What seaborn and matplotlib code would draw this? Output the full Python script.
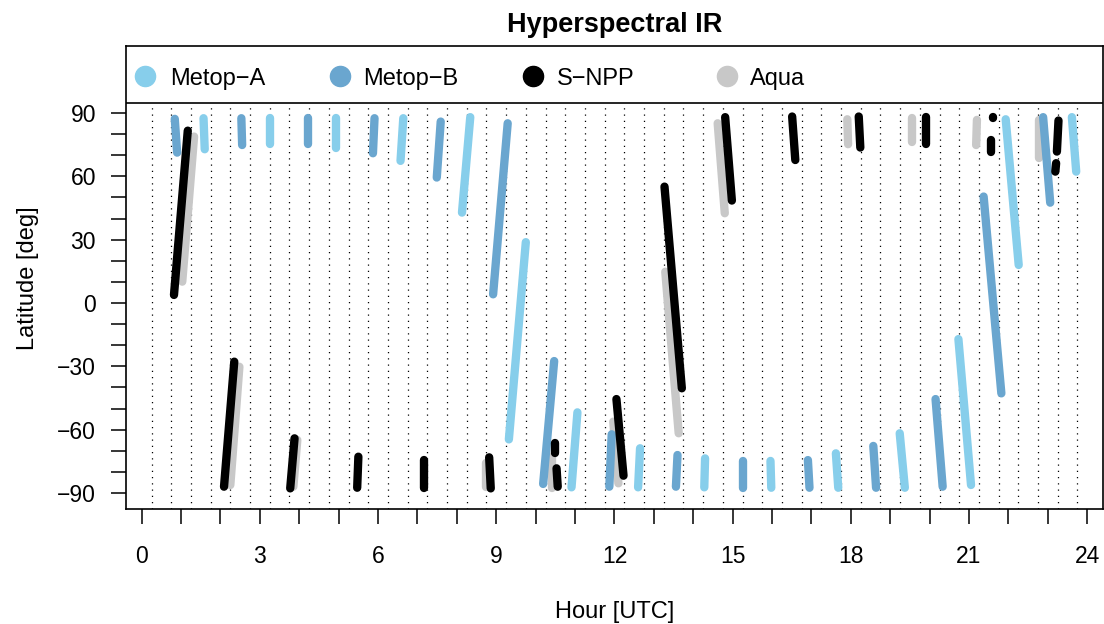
import numpy as np
import pandas as pd
import matplotlib
matplotlib.use("Agg")
import matplotlib.pyplot as plt
import seaborn as sns

# Overpass tracks, one tuple per segment: (start hour, start lat, end hour, end lat)
METOP_A = [
    (1.57, 87.5, 1.60, 72.8), (3.26, 87.5, 3.26, 75.2), (4.94, 87.5, 4.94, 73.3),
    (6.64, 87.5, 6.57, 67.3), (8.34, 88.0, 8.13, 42.8), (9.75, 28.8, 9.32, -64.6),
    (11.06, -51.8, 10.91, -87.3), (12.65, -68.8, 12.60, -87.3), (14.30, -73.6, 14.28, -87.3),
    (15.96, -74.8, 15.98, -87.5), (17.62, -71.2, 17.68, -87.5), (19.24, -61.7, 19.37, -87.5),
    (20.73, -17.1, 21.05, -86.2), (21.93, 87.0, 22.26, 18.0), (23.61, 88.0, 23.72, 62.2),
]
METOP_B = [
    (0.84, 87.2, 0.90, 71.2), (2.53, 87.5, 2.55, 74.8), (4.22, 87.5, 4.22, 75.3),
    (5.91, 87.5, 5.87, 70.9), (7.59, 85.9, 7.49, 59.4), (9.29, 85.1, 8.92, 4.1),
    (10.47, -27.5, 10.19, -85.7), (11.93, -62.2, 11.87, -87.0), (13.60, -72.0, 13.56, -87.0),
    (15.25, -74.8, 15.25, -87.5), (16.91, -74.4, 16.95, -87.5), (18.57, -67.7, 18.64, -87.5),
    (20.15, -45.5, 20.33, -87.0), (21.37, 50.4, 21.82, -42.8), (22.88, 88.0, 23.06, 47.5),
]
SNPP = [
    (1.17, 81.6, 0.82, 3.8), (2.35, -27.8, 2.09, -87.0), (3.88, -64.1, 3.77, -87.8),
    (5.50, -72.8, 5.47, -87.5), (7.17, -74.4, 7.17, -87.5), (8.82, -73.1, 8.86, -87.8),
    (10.48, -66.5, 10.48, -70.9), (10.53, -78.3, 10.56, -87.0), (12.05, -45.5, 12.23, -81.8),
    (13.27, 55.1, 13.71, -40.4), (14.81, 88.0, 14.98, 48.5), (16.51, 88.3, 16.59, 67.7),
    (18.20, 88.3, 18.24, 73.6), (19.91, 88.3, 19.91, 75.2), (21.60, 88.2, 21.60, 87.8),
    (21.56, 77.2, 21.56, 71.7), (23.27, 86.4, 23.23, 71.7), (23.21, 66.2, 23.19, 62.2),
]
AQUA = [
    (1.33, 78.8, 1.03, 10.1), (2.48, -30.2, 2.25, -86.2), (3.95, -64.9, 3.85, -87.0),
    (8.73, -75.8, 8.73, -87.2), (10.42, -72.8, 10.42, -87.6), (11.97, -56.2, 12.10, -85.4),
    (13.29, 14.8, 13.63, -61.7), (13.66, -68.0, 13.66, -68.4), (14.62, 85.1, 14.80, 42.5),
    (17.91, 87.0, 17.93, 75.2), (19.56, 87.5, 19.56, 76.4), (21.20, 86.7, 21.18, 74.8),
    (22.78, 86.7, 22.78, 68.5),
]

SATELLITES = ["Metop\u2212A", "Metop\u2212B", "S\u2212NPP", "Aqua"]
TRACKS = [METOP_A, METOP_B, SNPP, AQUA]
COLORS = ["#87CEEB", "#6AA6CF", "#000000", "#C8C8C8"]
DRAW_ORDER = ["Aqua", "Metop\u2212A", "Metop\u2212B", "S\u2212NPP"]

X_TICKS = list(range(0, 25))
X_LABELS = [str(h) if h % 3 == 0 else "" for h in X_TICKS]
Y_TICKS = list(range(-90, 91, 10))
Y_LABELS = [f"{v}".replace("-", "\u2212") if v % 30 == 0 else "" for v in Y_TICKS]
GRID_HOURS = np.arange(0.25, 24.0, 0.5)

# Long-form table: two rows per segment, each segment its own unit
rows = []
for name, segs in zip(SATELLITES, TRACKS):
    for i, (h0, l0, h1, l1) in enumerate(segs):
        uid = f"{name}_{i}"
        rows.append((name, uid, h0, l0))
        rows.append((name, uid, h1, l1))
df = pd.DataFrame(rows, columns=["satellite", "track", "hour", "lat"])

sns.set_style("ticks")
plt.rcParams["font.family"] = ["Liberation Sans", "DejaVu Sans"]
plt.rcParams["text.color"] = "black"
plt.rcParams["axes.labelcolor"] = "black"
plt.rcParams["axes.titlecolor"] = "black"

fig = plt.figure(figsize=(11.04, 6.24), dpi=100)
ax = fig.add_axes([0.1137, 0.1835, 0.8854, 0.7428])

Y_TOP, Y_BOT, LEG_BOT = 121.7, -97.8, 94.7
X_LEFT, X_RIGHT = -0.41, 24.40

# Dotted half-hour guides
ax.vlines(GRID_HOURS, Y_BOT, LEG_BOT, colors="black", linewidth=0.9,
          linestyles=[(0, (1, 4.0))], zorder=1)

palette = dict(zip(SATELLITES, COLORS))
sns.lineplot(data=df, x="hour", y="lat", hue="satellite", hue_order=DRAW_ORDER,
             units="track", estimator=None, sort=False, palette=palette,
             linewidth=6.0, solid_capstyle="round", legend=False, ax=ax, zorder=3)

ax.set_xlim(X_LEFT, X_RIGHT)
ax.set_ylim(Y_BOT, Y_TOP)

# Legend strip across the top of the panel
ax.axhspan(LEG_BOT, Y_TOP, facecolor="white", edgecolor="none", zorder=4)
ax.axhline(LEG_BOT, color="black", linewidth=1.2, zorder=5)
leg_marker_x = [0.0204, 0.2195, 0.4169, 0.6154]
leg_text_x = [0.0455, 0.2430, 0.4410, 0.6389]
for name, col, mx, tx in zip(SATELLITES, COLORS, leg_marker_x, leg_text_x):
    ax.plot([mx], [0.9355], "o", color=col, markersize=14.5, transform=ax.transAxes,
            zorder=6, clip_on=False)
    ax.text(tx, 0.9155, name, transform=ax.transAxes, ha="left", va="baseline",
            fontsize=17, color="black", zorder=6)

ax.set_xticks(X_TICKS)
ax.set_xticklabels(X_LABELS)
ax.set_yticks(Y_TICKS)
ax.set_yticklabels(Y_LABELS)
ax.tick_params(axis="x", direction="out", length=10.8, width=1.1, pad=14.5,
               labelsize=16.5, colors="black")
ax.tick_params(axis="y", direction="out", length=10.8, width=1.1, pad=10.5,
               labelsize=16.5, colors="black")

for sp in ax.spines.values():
    sp.set_visible(True)
    sp.set_color("black")
    sp.set_linewidth(1.2)
    sp.set_zorder(7)

ax.set_xlabel("Hour [UTC]", fontsize=17, va="center", color="black")
ax.xaxis.set_label_coords(0.5, -0.221)
ax.set_ylabel("Latitude [deg]", fontsize=17, va="center", color="black")
ax.yaxis.set_label_coords(-0.100, 0.5)
ax.set_title("Hyperspectral IR", fontsize=19.5, fontweight="bold", pad=10, color="black")

fig.savefig("out.png", dpi=100)
